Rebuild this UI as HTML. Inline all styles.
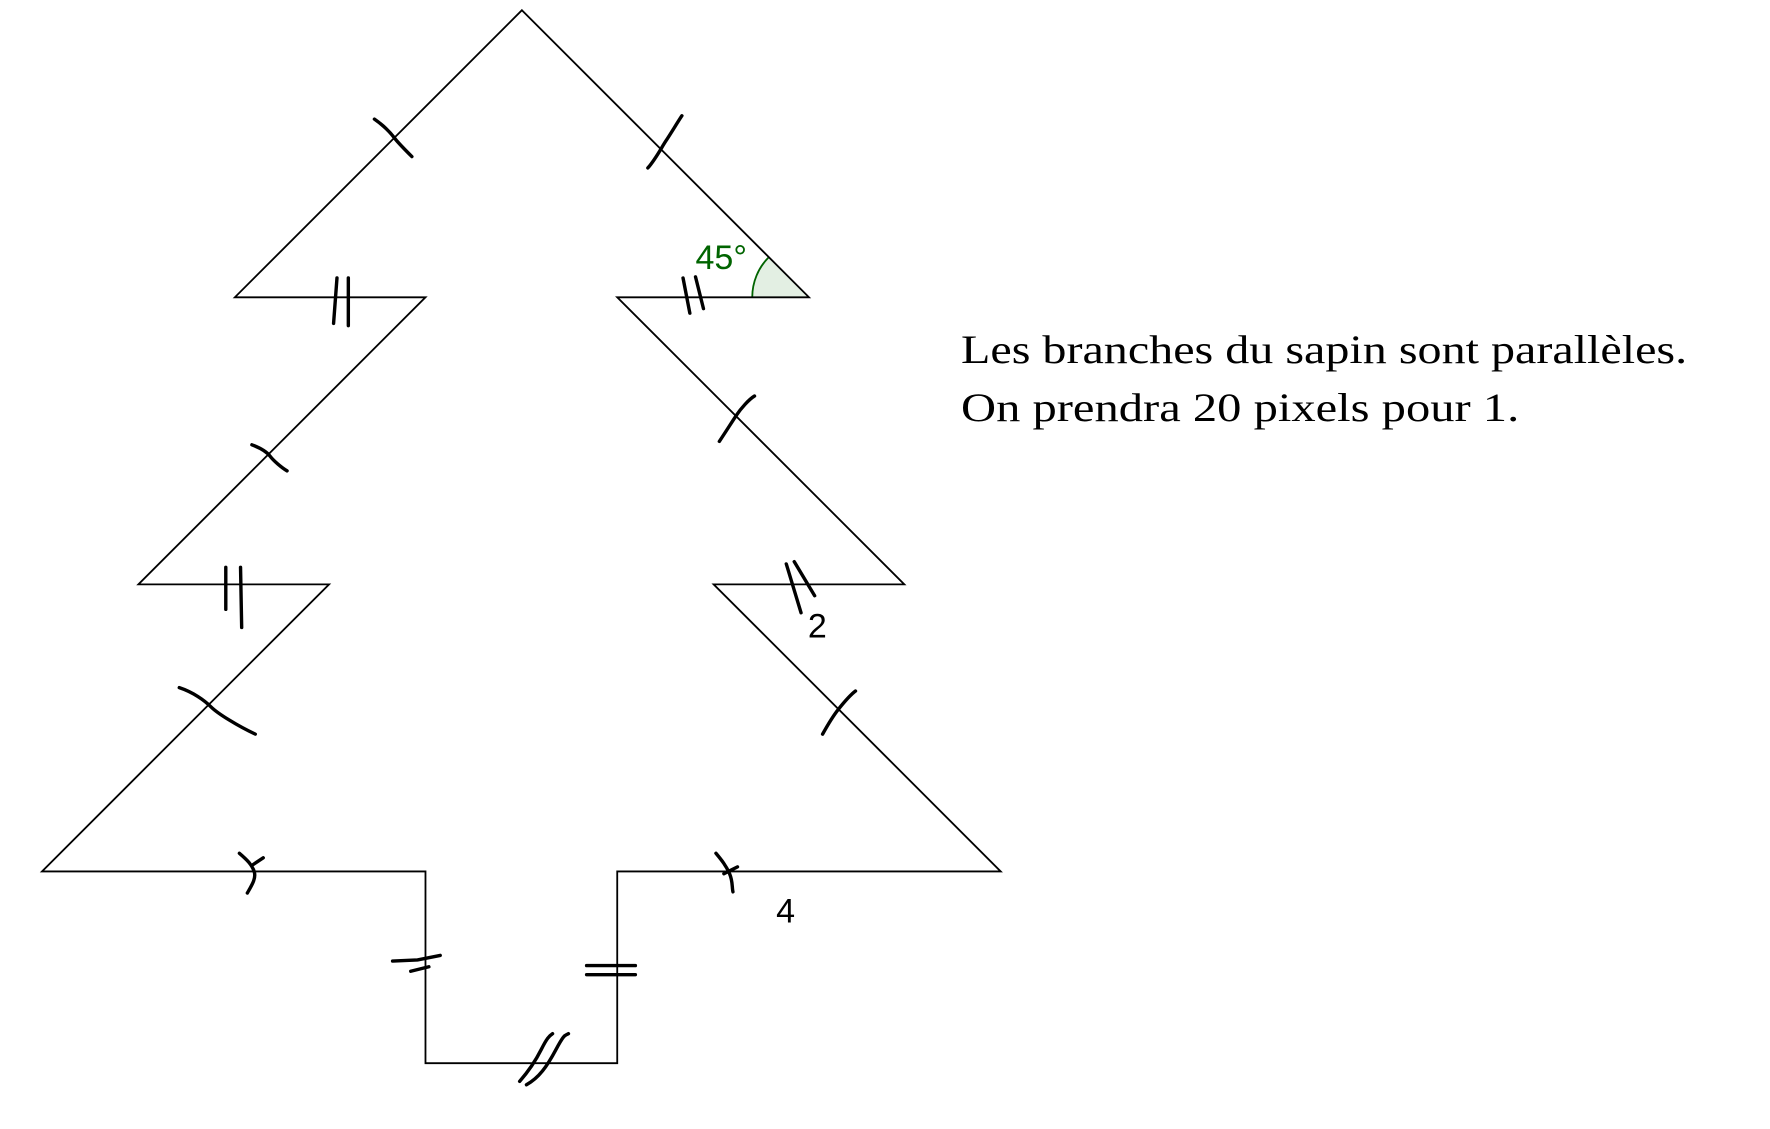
<!DOCTYPE html>
<html><head><meta charset="utf-8"><style>html,body{margin:0;padding:0;background:#fff;}svg{display:block}</style></head>
<body>
<svg width="1770" height="1129" viewBox="0 0 1560 995" preserveAspectRatio="none" xmlns="http://www.w3.org/2000/svg">
<rect width="1560" height="995" fill="#fff"/>
<path d="M663,262 A50,50 0 0 1 677.6,226.6 L713,262 Z" fill="#e3efe3" stroke="none"/>
<path d="M663,262 A50,50 0 0 1 677.6,226.6" fill="none" stroke="#006400" stroke-width="1.6"/>
<polygon points="460,9 713,262 544,262 797,515 629,515 882,768 544,768 544,937 375,937 375,768 37,768 290,515 122,515 375,262 207,262" fill="none" stroke="#000" stroke-width="1.6"/>
<g fill="none" stroke="#000" stroke-width="3" stroke-linecap="round">
<path d="M330,105 C340,112 345,118 348,122 S358,133 363,138"/>
<path d="M571,148 C578,140 583,130 587,124 S597,108 601,102"/>
<path d="M297,245 L294,285 M307,245 L307,287"/>
<path d="M602,245 L608,276 M613,244 L620,272"/>
<path d="M222,392 C230,395 235,398 238,402 S248,412 253,415"/>
<path d="M634,389 C640,380 645,372 649,366 S660,352 665,349"/>
<path d="M199,500 L199,537 M212,500 L213,553"/>
<path d="M693,497 L706,540 M700,495 L718,525"/>
<path d="M158,606 C170,610 180,617 186,623 S210,640 225,647"/>
<path d="M725,647 C730,638 735,630 739,625 S750,612 754,609"/>
<path d="M211,752 C218,758 222,762 224,768 S222,780 218,787 M223,762 L232,756"/>
<path d="M631,752 C636,758 640,763 643,770 S645,782 646,786 M638,770 L650,764"/>
<path d="M346,847 L368,846 L388,842 M362,856 L378,852"/>
<path d="M517,851 L560,851 M517,859 L560,859"/>
<path d="M458,953 C465,945 472,935 477,925 S484,913 487,911 M464,956 C475,950 482,940 490,925 S498,913 501,911"/>
</g>
<text x="613" y="237" font-family="Liberation Sans, sans-serif" font-size="30" fill="#006400">45°</text>
<text x="712" y="562" font-family="Liberation Sans, sans-serif" font-size="30" fill="#000">2</text>
<text x="684" y="813" font-family="Liberation Sans, sans-serif" font-size="30" fill="#000">4</text>
<text x="847" y="320" font-family="Liberation Serif, serif" font-size="35" fill="#000" textLength="640" lengthAdjust="spacingAndGlyphs">Les branches du sapin sont parallèles.</text>
<text x="847" y="371" font-family="Liberation Serif, serif" font-size="35" fill="#000" textLength="492" lengthAdjust="spacingAndGlyphs">On prendra 20 pixels pour 1.</text>
</svg>
</body></html>
